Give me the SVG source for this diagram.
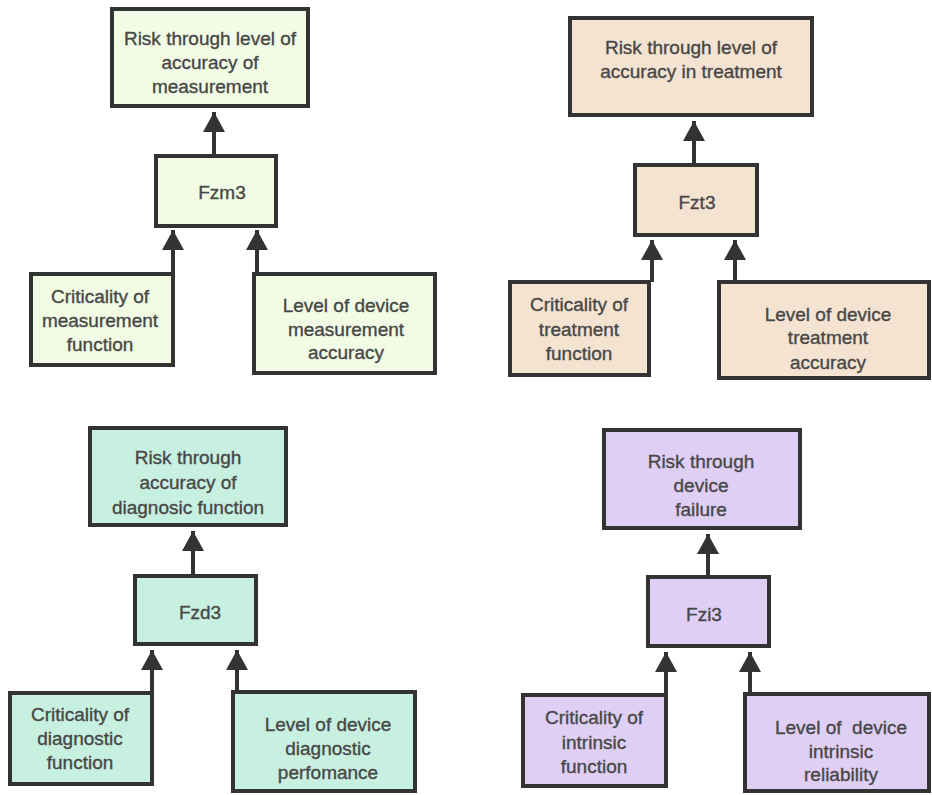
<svg xmlns="http://www.w3.org/2000/svg" width="932" height="795" viewBox="0 0 932 795">
<defs>
<style>
.box{stroke:#333;stroke-width:4}
.g{fill:#f2fbe4}.p{fill:#f5e3d2}.c{fill:#c8f0e0}.v{fill:#dfcff5}
text{font-family:"Liberation Sans",Arial,sans-serif;font-size:19px;fill:#474747;stroke:#474747;stroke-width:0.35;text-anchor:middle}
.conn line{stroke:#333;stroke-width:4;marker-end:url(#ah)}
</style>
<marker id="ah" viewBox="0 0 20 22" refX="20" refY="11" markerWidth="20" markerHeight="22" markerUnits="userSpaceOnUse" orient="auto">
<path d="M0,0 L20,11 L0,22 z" fill="#333"/>
</marker>
</defs>
<rect width="932" height="795" fill="#fff"/>
<g class="conn" id="connectors">
<line x1="214" y1="154" x2="214" y2="112"/>
<line x1="173" y1="274" x2="173" y2="230"/>
<line x1="257" y1="274" x2="257" y2="230"/>
<line x1="694" y1="163" x2="694" y2="121"/>
<line x1="652" y1="282" x2="652" y2="240"/>
<line x1="735" y1="282" x2="735" y2="240"/>
<line x1="193" y1="574" x2="193" y2="531"/>
<line x1="152" y1="692" x2="152" y2="650"/>
<line x1="237" y1="692" x2="237" y2="650"/>
<line x1="708" y1="575" x2="708" y2="534"/>
<line x1="666" y1="694" x2="666" y2="652"/>
<line x1="750" y1="694" x2="750" y2="652"/>
</g>
<g id="t1"><rect class="box g" x="112" y="9" width="196" height="97"/><text x="210" y="45">Risk through level of</text><text x="210" y="69">accuracy of</text><text x="210" y="93">measurement</text></g>
<g id="f1"><rect class="box g" x="156" y="156" width="120" height="70"/><text x="222" y="199">Fzm3</text></g>
<g id="l1"><rect class="box g" x="31" y="274" width="142" height="91"/><text x="100" y="303">Criticality of</text><text x="100" y="327">measurement</text><text x="100" y="351">function</text></g>
<g id="r1"><rect class="box g" x="254" y="274" width="181" height="99"/><text x="346" y="312">Level of device</text><text x="346" y="336">measurement</text><text x="346" y="359">accuracy</text></g>

<g id="t2"><rect class="box p" x="570" y="18" width="242" height="97"/><text x="691" y="54">Risk through level of</text><text x="691" y="78">accuracy in treatment</text></g>
<g id="f2"><rect class="box p" x="635" y="165" width="122" height="70"/><text x="697" y="209">Fzt3</text></g>
<g id="l2"><rect class="box p" x="510" y="282" width="139" height="93"/><text x="579" y="311">Criticality of</text><text x="579" y="336">treatment</text><text x="579" y="360">function</text></g>
<g id="r2"><rect class="box p" x="719" y="282" width="210" height="96"/><text x="828" y="321">Level of device</text><text x="828" y="344">treatment</text><text x="828" y="369">accuracy</text></g>

<g id="t3"><rect class="box c" x="90" y="428" width="196" height="97"/><text x="188" y="464">Risk through</text><text x="188" y="489">accuracy of</text><text x="188" y="514">diagnosic function</text></g>
<g id="f3"><rect class="box c" x="135" y="576" width="121" height="68"/><text x="200" y="619">Fzd3</text></g>
<g id="l3"><rect class="box c" x="10" y="693" width="142" height="91"/><text x="80" y="721">Criticality of</text><text x="80" y="745">diagnostic</text><text x="80" y="769">function</text></g>
<g id="r3"><rect class="box c" x="233" y="692" width="182" height="99"/><text x="328" y="731">Level of device</text><text x="328" y="755">diagnostic</text><text x="328" y="779">perfomance</text></g>

<g id="t4"><rect class="box v" x="604" y="430" width="196" height="98"/><text x="701" y="468">Risk through</text><text x="701" y="492">device</text><text x="701" y="516">failure</text></g>
<g id="f4"><rect class="box v" x="648" y="577" width="121" height="69"/><text x="704" y="621">Fzi3</text></g>
<g id="l4"><rect class="box v" x="523" y="695" width="143" height="91"/><text x="594" y="724">Criticality of</text><text x="594" y="749">intrinsic</text><text x="594" y="773">function</text></g>
<g id="r4"><rect class="box v" x="745" y="694" width="184" height="97"/><text x="841" y="734" xml:space="preserve">Level of  device</text><text x="841" y="758">intrinsic</text><text x="841" y="781">reliability</text></g>
</svg>
